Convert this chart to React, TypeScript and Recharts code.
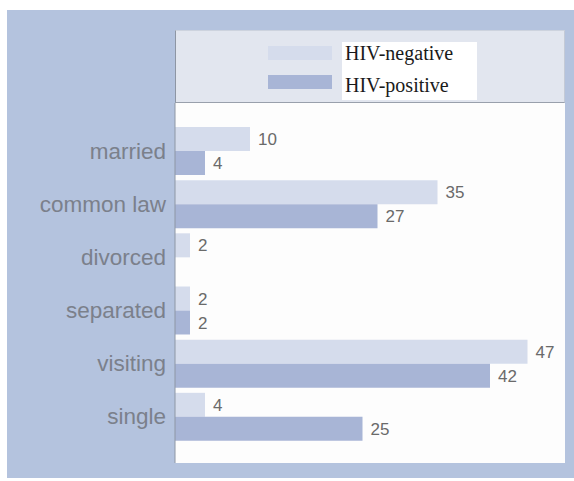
import { BarChart, Bar, XAxis, YAxis, CartesianGrid, Legend, LabelList } from "recharts";

const categories = ["married", "common law", "divorced", "separated", "visiting", "single"];
const hivNegative = [10, 35, 2, 2, 47, 4];
const hivPositive: (number | null)[] = [4, 27, null, 2, 42, 25];

const data = categories.map((status, i) => ({
  status,
  negative: hivNegative[i],
  positive: hivPositive[i],
}));

const FRAME = "#b4c3de";
const NEG = "#d5dcec";
const POS = "#a8b5d6";

function LegendPanel({ payload }: any) {
  const items = payload ?? [];
  return (
    <div
      style={{
        position: "relative",
        width: 390,
        height: 73,
        boxSizing: "border-box",
        background: "#e2e6ef",
        borderTop: "1px solid #cdd3de",
        borderLeft: "1px solid #8e96a4",
        borderRight: "1px solid #c4cad6",
        borderBottom: "1px solid #99a0ac",
      }}
    >
      {items.map((entry: any, i: number) => (
        <div
          key={`sw-${i}`}
          style={{
            position: "absolute",
            left: 92,
            top: 15 + i * 29,
            width: 64,
            height: 14,
            background: entry.color,
          }}
        />
      ))}
      <div
        style={{
          position: "absolute",
          left: 166,
          top: 11,
          width: 135,
          height: 58,
          background: "#ffffff",
        }}
      >
        {items.map((entry: any, i: number) => (
          <div
            key={`tx-${i}`}
            style={{
              position: "absolute",
              left: 3,
              top: 1 + i * 32,
              fontFamily: '"Liberation Serif", serif',
              fontSize: 20,
              lineHeight: "20px",
              color: "#1a1a1a",
              whiteSpace: "nowrap",
            }}
          >
            {entry.value}
          </div>
        ))}
      </div>
    </div>
  );
}

const hideEmpty = (v: any) => (v == null ? "" : v);

export default function App() {
  return (
    <div style={{ position: "fixed", left: 0, top: 0, width: 574, height: 481, background: "#ffffff" }}>
      <div style={{ position: "absolute", left: 7, top: 10, width: 567, height: 468, background: FRAME }} />
      <div style={{ position: "absolute", left: 0, top: 0 }}>
        <BarChart
          width={574}
          height={481}
          data={data}
          layout="vertical"
          margin={{ top: 103, right: 9, bottom: 18, left: 0 }}
          barCategoryGap={3}
          barGap={0}
        >
          <CartesianGrid fill="#fdfdfd" horizontal={false} vertical={false} />
          <XAxis type="number" domain={[0, 52]} hide />
          <YAxis
            type="category"
            dataKey="status"
            width={175}
            padding={{ top: 21, bottom: 20 }}
            tickLine={false}
            tickSize={0}
            tickMargin={9}
            axisLine={{ stroke: "#8e96a4", strokeWidth: 1 }}
            tick={{ fill: "#7b808b", fontSize: 22.5, fontFamily: '"Liberation Sans", Arial, sans-serif' }}
          />
          {/* horizontal + middle keeps the legend from reserving space in the plot offset */}
          <Legend
            layout="horizontal"
            align="center"
            verticalAlign="middle"
            content={<LegendPanel />}
            wrapperStyle={{ top: 30, left: 175, width: 390, height: 73 }}
          />
          <Bar dataKey="negative" name="HIV-negative" fill={NEG} isAnimationActive={false}>
            <LabelList
              dataKey="negative"
              position="right"
              offset={8}
              formatter={hideEmpty}
              style={{ fill: "#6a6a6a", fontSize: 17, fontFamily: '"Liberation Sans", Arial, sans-serif' }}
            />
          </Bar>
          <Bar dataKey="positive" name="HIV-positive" fill={POS} isAnimationActive={false}>
            <LabelList
              dataKey="positive"
              position="right"
              offset={8}
              formatter={hideEmpty}
              style={{ fill: "#6a6a6a", fontSize: 17, fontFamily: '"Liberation Sans", Arial, sans-serif' }}
            />
          </Bar>
        </BarChart>
      </div>
    </div>
  );
}
